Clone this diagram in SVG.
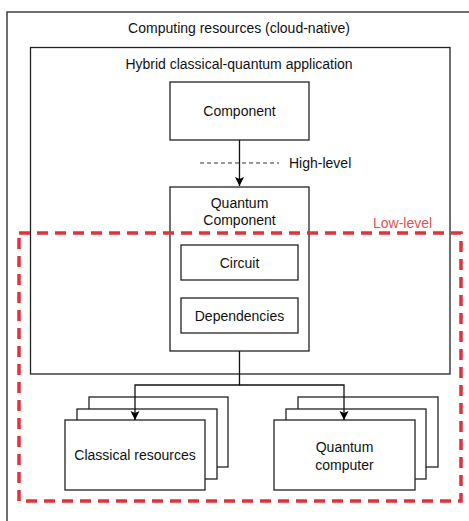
<svg xmlns="http://www.w3.org/2000/svg" width="469" height="521" viewBox="0 0 469 521">
<defs>
<marker id="arr" markerWidth="10" markerHeight="10" refX="9" refY="4.5" orient="auto" markerUnits="userSpaceOnUse">
<path d="M0,0 L9,4.5 L0,9 L2,4.5 Z" fill="#000"/>
</marker>
</defs>
<style>
.box{fill:#fff;stroke:#222;stroke-width:1.3}
.frame{fill:none;stroke:#222;stroke-width:1.3}
.t{font-family:"Liberation Sans",Arial,sans-serif;font-size:14px;fill:#111;text-anchor:middle}
.edge{fill:none;stroke:#111;stroke-width:1.3}
</style>
<rect width="469" height="521" fill="#fff"/>
<g id="computing-resources">
<rect class="frame" x="7" y="12" width="470" height="515"/>
<text class="t" x="239" y="33">Computing resources (cloud-native)</text>
</g>
<g id="hybrid-app">
<rect class="frame" x="30.5" y="47.5" width="419.5" height="326.5"/>
<text class="t" x="239" y="68.5">Hybrid classical-quantum application</text>
</g>
<g id="component">
<rect class="box" x="170" y="82" width="139" height="58"/>
<text class="t" x="239.5" y="116">Component</text>
</g>
<g id="quantum-component">
<rect class="box" x="170" y="187" width="139" height="164"/>
<text class="t" x="239.5" y="208">Quantum</text>
<text class="t" x="239.5" y="224.5">Component</text>
</g>
<g id="circuit">
<rect class="box" x="181" y="245" width="117" height="35"/>
<text class="t" x="239.5" y="267.5">Circuit</text>
</g>
<g id="dependencies">
<rect class="box" x="181" y="298" width="117" height="35"/>
<text class="t" x="239.5" y="320.5">Dependencies</text>
</g>
<g id="high-level">
<line x1="200" y1="163" x2="279" y2="163" stroke="#333" stroke-width="1" stroke-dasharray="4,3"/>
<text class="t" x="289" y="168" style="text-anchor:start">High-level</text>
</g>
<g id="classical-resources">
<rect class="box" x="89" y="397" width="139" height="70"/>
<rect class="box" x="77" y="409" width="140" height="70"/>
<rect class="box" x="65" y="420" width="140" height="70"/>
<text class="t" x="135" y="460">Classical resources</text>
</g>
<g id="quantum-computer">
<rect class="box" x="298" y="397" width="140" height="70"/>
<rect class="box" x="286" y="409" width="140" height="70"/>
<rect class="box" x="274" y="420" width="141" height="70"/>
<text class="t" x="344.5" y="452">Quantum</text>
<text class="t" x="344.5" y="470">computer</text>
</g>
<g id="connectors">
<path class="edge" d="M239.5,140 V186" marker-end="url(#arr)"/>
<path class="edge" d="M239.5,351 V385 H135 V420" marker-end="url(#arr)"/>
<path class="edge" d="M239.5,385 H344 V420" marker-end="url(#arr)"/>
</g>
<g id="low-level">
<rect x="19" y="233" width="442" height="268" fill="none" stroke="#e0323a" stroke-width="3.5" stroke-dasharray="11,7"/>
<text x="373" y="227.5" style="font-family:'Liberation Sans',Arial,sans-serif;font-size:14px;fill:#d9534f">Low-level</text>
</g>
</svg>
